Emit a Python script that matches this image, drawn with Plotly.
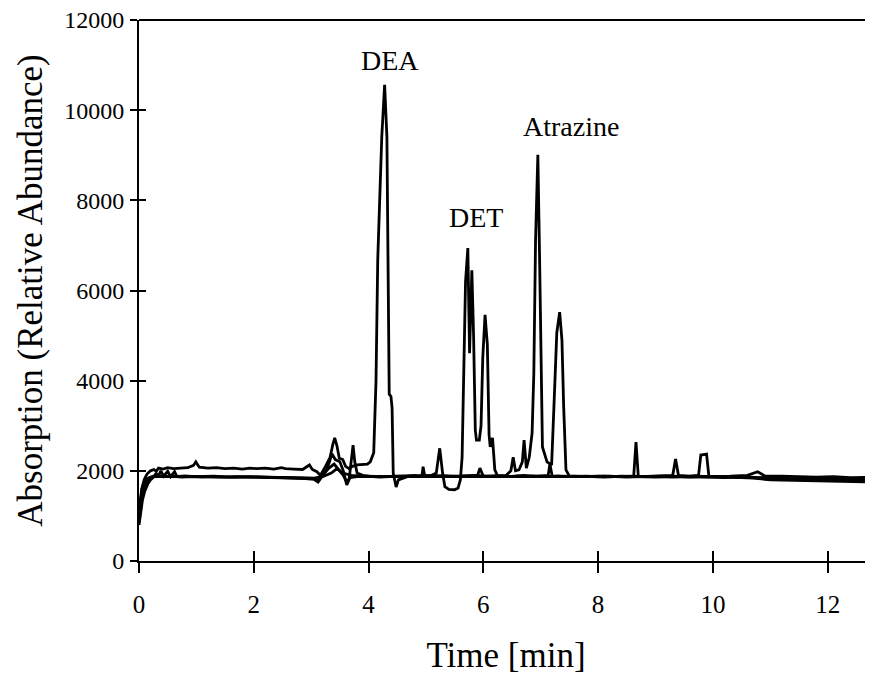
import plotly.graph_objects as go

# ---- data ----
dea_time = [0.00, 0.02, 0.05, 0.09, 0.14, 0.20, 0.26, 0.30, 0.34, 0.42, 0.50, 0.60, 0.72, 0.85, 0.95, 0.99,
            1.05, 1.20, 1.35, 1.50, 1.65, 1.80, 1.93, 2.05, 2.20, 2.35, 2.48, 2.55, 2.70, 2.85, 2.97, 3.02,
            3.10, 3.16, 3.25, 3.33, 3.38, 3.41, 3.45, 3.49, 3.55, 3.60, 3.66, 3.72, 3.80, 3.90, 3.98, 4.03,
            4.09, 4.13, 4.16, 4.23, 4.28, 4.32, 4.34, 4.36, 4.39, 4.41, 4.43, 4.48, 4.52, 4.60, 4.70, 4.80,
            4.95, 5.10, 5.30, 5.50, 5.70, 5.90, 6.10, 6.30, 6.50, 6.70, 6.90, 7.10, 7.30, 7.50, 7.80, 8.10,
            8.40, 8.70, 9.00, 9.30, 9.60, 9.90, 10.20, 10.50, 10.80, 11.10, 11.40, 11.70, 12.00, 12.30,
            12.60, 12.80]
dea_value = [950, 1300, 1600, 1800, 1930, 2000, 2030, 1990, 2060, 2040, 2070, 2050, 2060, 2070, 2120, 2200,
             2080, 2060, 2070, 2050, 2060, 2040, 2060, 2050, 2060, 2040, 2070, 2050, 2040, 2030, 2130, 2030,
             1980, 1900, 2100, 2300, 2600, 2730, 2550, 2280, 2250, 2100, 2050, 2100, 2130, 2140, 2150, 2200,
             2400, 4000, 6680, 9400, 10560, 9400, 6680, 3700, 3650, 3400, 1950, 1640, 1800, 1830, 1880, 1870,
             1900, 1880, 1890, 1870, 1880, 1900, 1870, 1880, 1870, 1900, 1880, 1870, 1890, 1870, 1880, 1860,
             1880, 1870, 1860, 1880, 1860, 1870, 1860, 1870, 1850, 1860, 1840, 1850, 1830, 1840,
             1820, 1830]

det_time = [0.00, 0.03, 0.06, 0.10, 0.15, 0.20, 0.26, 0.30, 0.33, 0.38, 0.43, 0.50, 0.55, 0.62, 0.66, 0.75,
            0.90, 1.10, 1.30, 1.50, 1.70, 1.90, 2.10, 2.30, 2.50, 2.70, 2.90, 3.05, 3.12, 3.18, 3.26, 3.32,
            3.36, 3.42, 3.50, 3.56, 3.62, 3.66, 3.70, 3.73, 3.76, 3.80, 3.90, 4.00, 4.20, 4.40, 4.60, 4.80,
            4.95, 5.10, 5.18, 5.24, 5.29, 5.33, 5.40, 5.50, 5.56, 5.60, 5.63, 5.66, 5.69, 5.73, 5.76, 5.80,
            5.83, 5.86, 5.88, 5.93, 5.96, 5.99, 6.03, 6.07, 6.10, 6.12, 6.16, 6.20, 6.25, 6.40, 6.60, 6.80,
            7.00, 7.13, 7.16, 7.20, 7.40, 7.60, 7.90, 8.20, 8.50, 8.80, 9.10, 9.30, 9.35, 9.40, 9.60, 9.75,
            9.79, 9.89, 9.93, 10.10, 10.40, 10.70, 11.00, 11.30, 11.60, 11.90, 12.20, 12.50, 12.80]
det_value = [800, 1100, 1350, 1550, 1700, 1800, 1870, 1950, 1860, 2000, 1880, 1990, 1870, 1980, 1870, 1860,
             1870, 1860, 1870, 1860, 1860, 1870, 1860, 1850, 1850, 1840, 1830, 1810, 1750, 1850, 2000, 2200,
             2380, 2250, 2200, 2000, 1690, 1800, 2300, 2570, 2200, 1950, 1900, 1880, 1860, 1870, 1880, 1900,
             1880, 1900, 1950, 2500, 1950, 1650, 1590, 1580, 1620, 1800, 2300, 4200, 6200, 6940, 4610, 6450,
             5000, 2900, 2680, 2680, 3000, 4500, 5460, 4800, 2800, 2530, 2730, 2020, 1880, 1870, 1890, 1870,
             1880, 1900, 2150, 1880, 1870, 1880, 1870, 1880, 1860, 1870, 1880, 1900, 2260, 1900, 1880, 1900,
             2350, 2370, 1880, 1870, 1860, 1840, 1800, 1790, 1780, 1770, 1760, 1750, 1750]

atr_time = [0.00, 0.02, 0.05, 0.08, 0.12, 0.18, 0.25, 0.32, 0.40, 0.60, 0.80, 1.00, 1.30, 1.60, 1.93, 2.20,
            2.50, 2.80, 3.05, 3.12, 3.20, 3.30, 3.40, 3.50, 3.56, 3.62, 3.68, 3.80, 4.00, 4.20, 4.50, 4.80,
            4.93, 4.95, 4.98, 5.30, 5.60, 5.90, 5.94, 6.00, 6.20, 6.40, 6.48, 6.52, 6.56, 6.62, 6.68, 6.71,
            6.75, 6.80, 6.85, 6.88, 6.91, 6.95, 6.98, 7.01, 7.03, 7.11, 7.19, 7.23, 7.28, 7.33, 7.37, 7.40,
            7.44, 7.50, 7.70, 8.00, 8.30, 8.60, 8.80, 9.10, 9.40, 9.70, 10.00, 10.30, 10.60, 10.78, 10.90,
            11.20, 11.50, 11.80, 12.10, 12.40, 12.80]
atr_value = [1000, 1350, 1600, 1720, 1800, 1850, 1880, 1870, 1880, 1870, 1880, 1870, 1880, 1860, 1870, 1860,
             1850, 1840, 1830, 1780, 1900, 2050, 2150, 2000, 1900, 1750, 1850, 1870, 1880, 1870, 1880, 1890,
             1880, 2090, 1880, 1890, 1880, 1900, 2060, 1880, 1890, 1900, 2000, 2300, 2000, 2020, 2200, 2680,
             2060, 2300, 2840, 4170, 7120, 9010, 6740, 4170, 2530, 2200, 2130, 3420, 5060, 5520, 4900, 3420,
             2020, 1880, 1870, 1880, 1870, 1880, 1870, 1880, 1870, 1880, 1870, 1880, 1900, 1980, 1890,
             1880, 1870, 1860, 1870, 1850, 1860]

blank_time = [0.00, 0.03, 0.06, 0.10, 0.15, 0.22, 0.30, 0.50, 0.80, 1.10, 1.40, 1.70, 2.00, 2.30, 2.60, 2.90,
              3.05, 3.20, 3.35, 3.45, 3.55, 3.70, 3.90, 4.20, 4.50, 4.80, 5.10, 5.40, 5.70, 6.00, 6.30, 6.60,
              6.90, 7.20, 7.50, 7.80, 8.10, 8.40, 8.62, 8.66, 8.70, 9.00, 9.30, 9.60, 9.90, 10.20, 10.50,
              10.80, 11.10, 11.40, 11.70, 12.00, 12.30, 12.60, 12.80]
blank_value = [850, 1200, 1450, 1650, 1780, 1850, 1880, 1870, 1880, 1870, 1860, 1870, 1860, 1850, 1850, 1840,
               1840, 1870, 1950, 2050, 1950, 1900, 1880, 1870, 1880, 1870, 1880, 1870, 1880, 1870, 1880, 1870,
               1880, 1870, 1880, 1870, 1880, 1870, 1880, 2640, 1880, 1870, 1860, 1870, 1860, 1850, 1860,
               1840, 1830, 1820, 1810, 1800, 1800, 1790, 1790]

x_ticks = [0, 2, 4, 6, 8, 10, 12]
y_ticks = [0, 2000, 4000, 6000, 8000, 10000, 12000]
peak_labels = ["DEA", "DET", "Atrazine"]
peak_label_time = [4.37, 5.87, 7.53]
peak_label_value = [11110, 7610, 9630]

X_RANGE = [0, 12.79]
Y_RANGE = [0, 12000]
FONT = "Liberation Serif, Times New Roman, serif"

fig = go.Figure()
for t, v in [(blank_time, blank_value), (atr_time, atr_value), (det_time, det_value), (dea_time, dea_value)]:
    fig.add_trace(go.Scatter(x=t, y=v, mode="lines", line=dict(color="black", width=2.8),
                             showlegend=False, hoverinfo="skip"))

# invisible trace so overlay axes (inner half of crossing ticks) get drawn
fig.add_trace(go.Scatter(x=[0], y=[0], xaxis="x2", yaxis="y2", mode="markers",
                         marker=dict(opacity=0), showlegend=False, hoverinfo="skip"))

for txt, t, v in zip(peak_labels, peak_label_time, peak_label_value):
    fig.add_annotation(x=t, y=v, text=txt, showarrow=False, xref="x", yref="y",
                       font=dict(family=FONT, size=28, color="black"))

fig.add_shape(type="line", xref="paper", yref="paper", x0=0, x1=1, y0=1, y1=1,
              line=dict(color="black", width=2))

# page body has an 8px default margin, so the figure is sized/margined to compensate
fig.update_layout(
    width=865, height=667,
    margin=dict(l=131, r=0, t=12, b=114, autoexpand=False),
    paper_bgcolor="white", plot_bgcolor="white",
    font=dict(family=FONT, color="black"),
    xaxis=dict(range=X_RANGE, tickvals=x_ticks, ticktext=[str(v) for v in x_ticks], automargin=False,
               ticks="outside", ticklen=10, tickwidth=2, tickcolor="black",
               showline=True, linewidth=2, linecolor="black", showgrid=False, zeroline=False,
               tickfont=dict(family=FONT, size=25), ticklabelstandoff=10, ticklabeloverflow="allow",
               title=dict(text="Time [min]", font=dict(family=FONT, size=35), standoff=26)),
    yaxis=dict(range=Y_RANGE, tickvals=y_ticks, ticktext=[str(v) for v in y_ticks], automargin=False,
               ticks="outside", ticklen=7, tickwidth=2, tickcolor="black",
               showline=True, linewidth=2, linecolor="black", showgrid=False, zeroline=False,
               tickfont=dict(family=FONT, size=24), ticklabelstandoff=1, ticklabeloverflow="allow",
               title=dict(text="Absorption (Relative Abundance)", font=dict(family=FONT, size=35), standoff=11)),
    xaxis2=dict(range=X_RANGE, overlaying="x", anchor="y", side="bottom", tickvals=x_ticks,
                ticks="inside", ticklen=10, tickwidth=2, tickcolor="black", showticklabels=False,
                showline=False, showgrid=False, zeroline=False),
    yaxis2=dict(range=Y_RANGE, overlaying="y", anchor="x", side="left", tickvals=y_ticks,
                ticks="inside", ticklen=7, tickwidth=2, tickcolor="black", showticklabels=False,
                showline=False, showgrid=False, zeroline=False),
)

fig.write_html("out.html")
